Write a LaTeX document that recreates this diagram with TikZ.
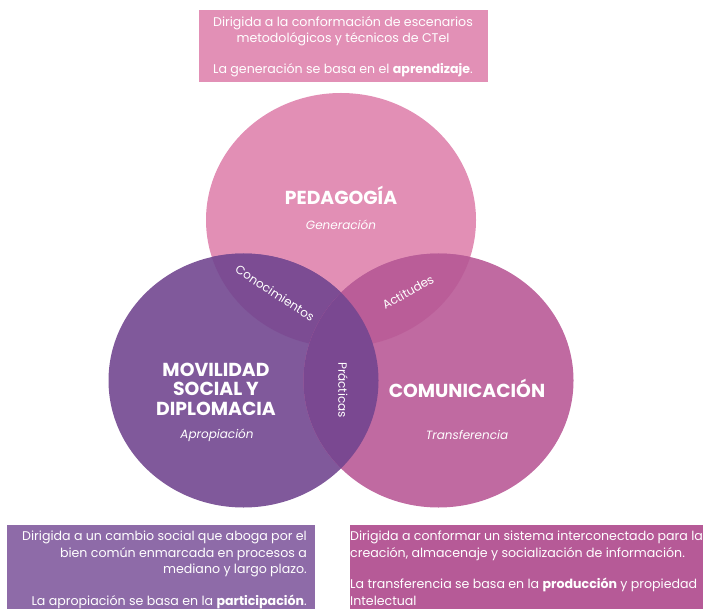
\documentclass[tikz,border=0pt]{standalone}
\usepackage{fontspec}
\setmainfont{Poppins}
\usepackage{xcolor}
\usetikzlibrary{calc}

\definecolor{pedcol}{HTML}{E28FB5}
\definecolor{movcol}{HTML}{80599B}
\definecolor{comcol}{HTML}{C06AA1}
\definecolor{pedmov}{HTML}{7C4C93}
\definecolor{pedcom}{HTML}{BA5D98}
\definecolor{movcom}{HTML}{7A4891}
\definecolor{pedbox}{HTML}{E290B6}
\definecolor{movbox}{HTML}{8E6BA8}
\definecolor{combox}{HTML}{B65A97}

\begin{document}
\begin{tikzpicture}[x=1pt,y=-1pt,
    venn/.style={x radius=135pt,y radius=127pt},
    ttl/.style={text=white,font=\fontsize{18.8}{19.5}\selectfont\bfseries,align=center},
    sub/.style={text=white,font=\fontsize{12}{15}\selectfont\itshape},
    lbl/.style={text=white,font=\fontsize{12}{15}\selectfont},
    boxtext/.style={text=white,font=\fontsize{12.6}{16.5}\selectfont,inner sep=0pt}]
  \useasboundingbox (0,0) rectangle (703,609);

  \coordinate (ped) at (341,220);
  \coordinate (mov) at (243.5,380.5);
  \coordinate (com) at (438.5,380.5);

  \fill[pedcol] (ped) ellipse[venn];
  \fill[movcol] (mov) ellipse[venn];
  \fill[comcol] (com) ellipse[venn];
  \begin{scope}
    \clip (ped) ellipse[venn];
    \fill[pedmov] (mov) ellipse[venn];
    \fill[pedcom] (com) ellipse[venn];
  \end{scope}
  \begin{scope}
    \clip (mov) ellipse[venn];
    \fill[movcom] (com) ellipse[venn];
  \end{scope}

  \node[ttl] (pedttl) at (341,195) {PEDAGOGÍA};
  \node[sub] (pedsub) at (341,225) {Generación};
  \node[ttl] (movttl) at (216,389) {MOVILIDAD\\SOCIAL Y\\DIPLOMACIA};
  \node[sub] (movsub) at (217,435) {Apropiación};
  \node[ttl] (comttl) at (467,388) {COMUNICACIÓN};
  \node[sub] (comsub) at (467,435) {Transferencia};

  \node[lbl,rotate=-33] (conoc) at (275,293) {Conocimientos};
  \node[lbl,rotate=29] (actit) at (408,292) {Actitudes};
  \node[lbl,rotate=-90] (pract) at (343,390) {Prácticas};

  \fill[pedbox] (199,10) rectangle (488,82);
  \fill[movbox] (7,525) rectangle (315,609);
  \fill[combox] (350,525) rectangle (703,609);

  \node[boxtext,align=center,anchor=north] (pedtxt) at (343,16)
    {Dirigida a la conformación de escenarios\\
     metodológicos y técnicos de CTeI\\[14pt]
     La generación se basa en el \textbf{aprendizaje}.};
  \node[boxtext,align=right,anchor=north east] (movtxt) at (307,531)
    {Dirigida a un cambio social que aboga por el\\
     bien común enmarcada en procesos a\\
     mediano y largo plazo.\\[15pt]
     La apropiación se basa en la \textbf{participación}.};
  \node[boxtext,align=left,anchor=north west] (comtxt) at (350,531)
    {Dirigida a conformar un sistema interconectado para la\\
     creación, almacenaje y socialización de información.\\[15pt]
     La transferencia se basa en la \textbf{producción} y propiedad\\
     Intelectual};
\end{tikzpicture}
\end{document}
